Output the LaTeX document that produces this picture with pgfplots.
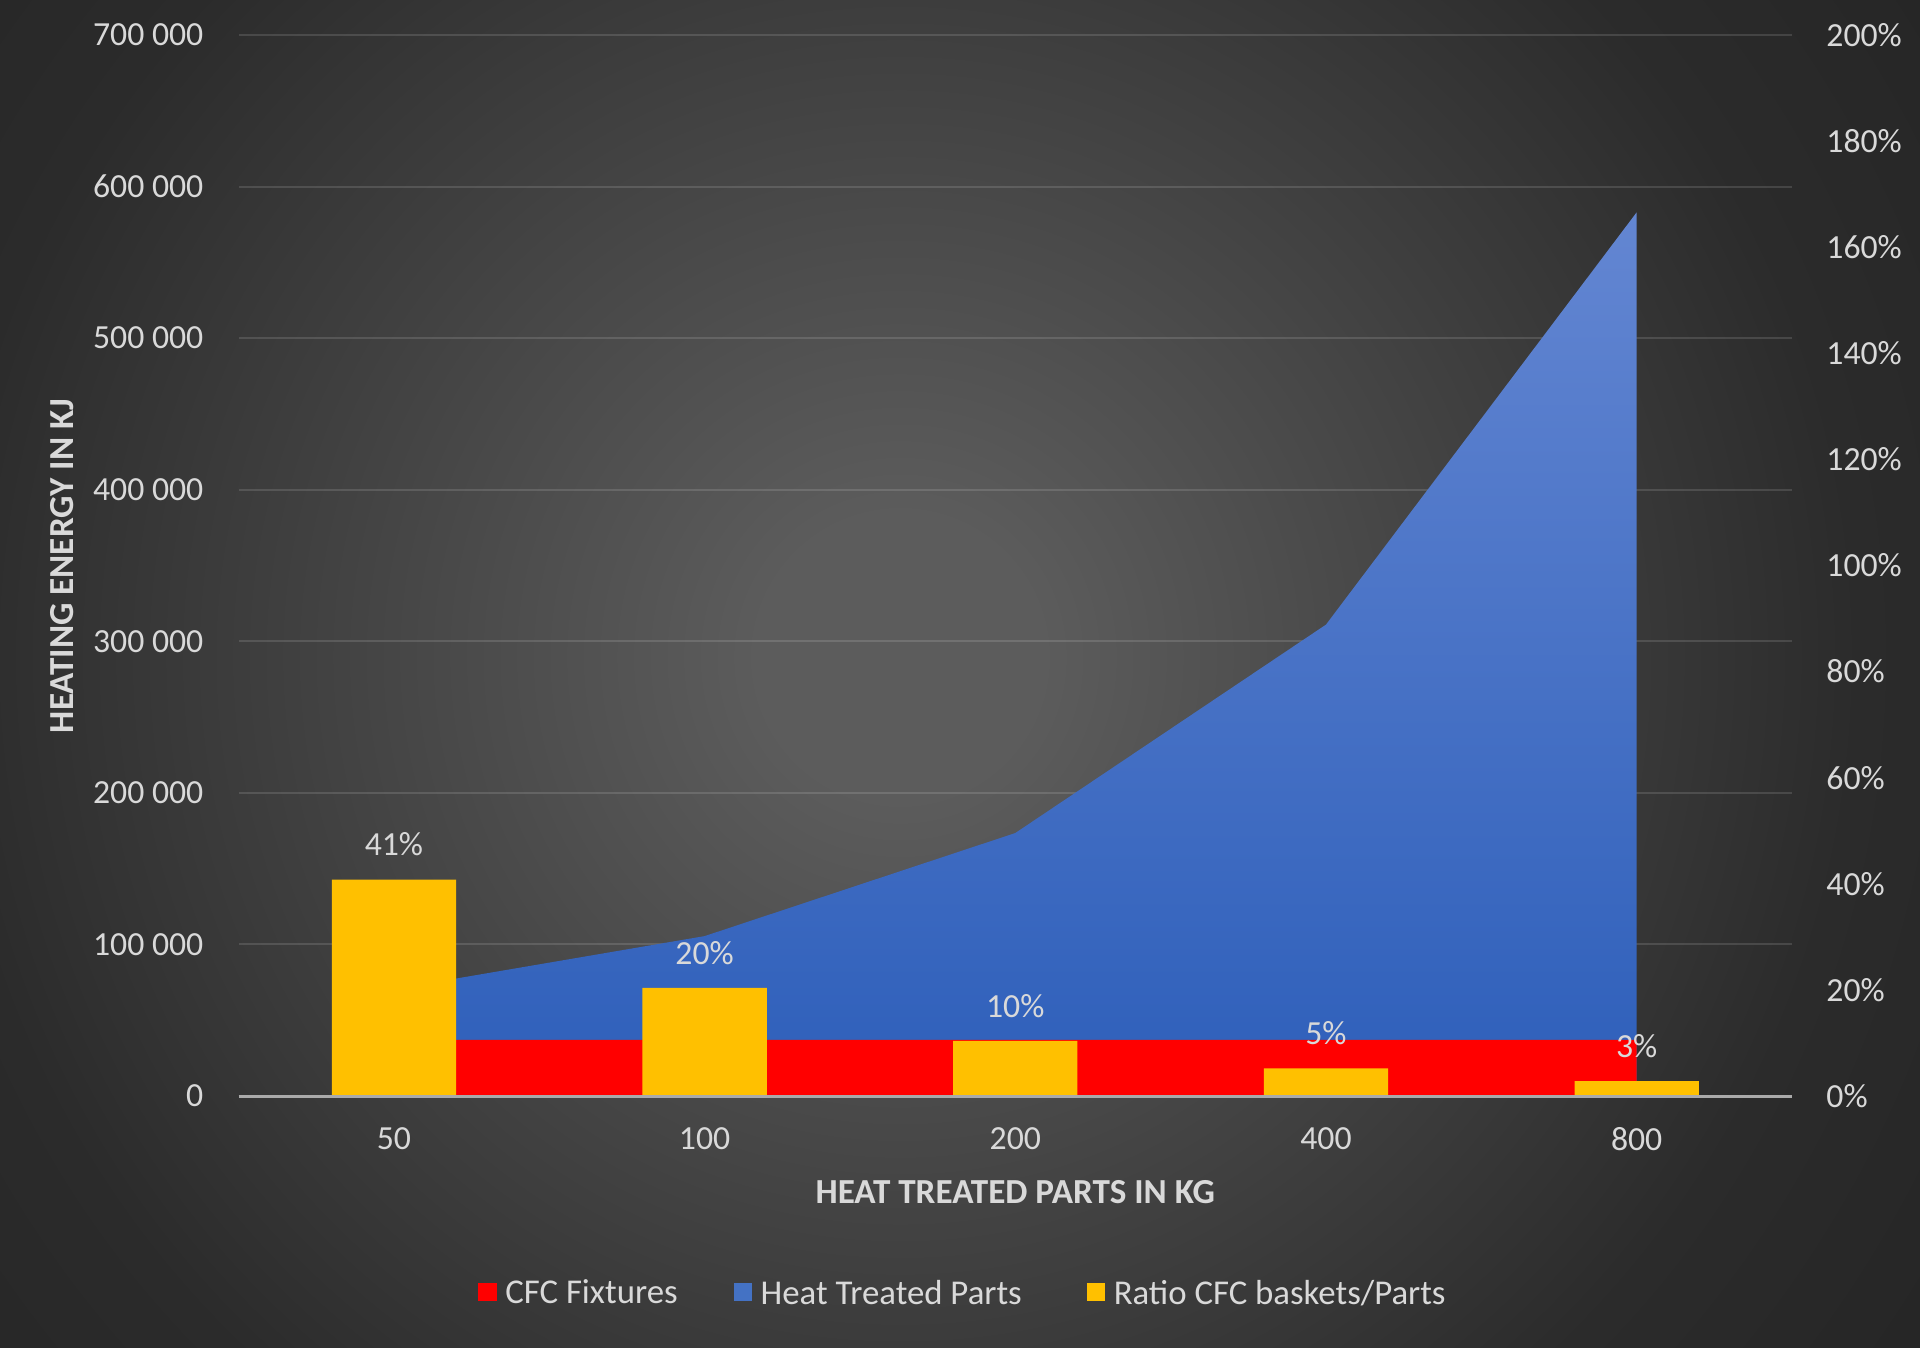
\documentclass[border=0pt]{standalone}
\usepackage{fontspec}
\setmainfont{Carlito}
\usepackage{pgfplots}
\pgfplotsset{compat=1.18}
\definecolor{bgin}{RGB}{92,92,92}
\definecolor{bgout}{RGB}{43,43,43}
\definecolor{bgcorner}{RGB}{37,37,37}
\definecolor{txt}{RGB}{217,217,217}
\definecolor{cfcred}{RGB}{255,0,0}
\definecolor{partsblueA}{RGB}{99,134,210}
\definecolor{partsblueB}{RGB}{46,95,186}
\definecolor{partsblueM}{RGB}{68,114,196}
\definecolor{ratioyellow}{RGB}{255,192,0}
\definecolor{baseline}{RGB}{170,170,170}
\pgfdeclareradialshading{bgshade}{\pgfpoint{0bp}{0bp}}{color(0bp)=(bgin); color(40bp)=(bgin); color(272bp)=(bgout); color(360bp)=(bgcorner)}
\newcommand\tickfont{\fontsize{9.6}{11.5}\selectfont}
\newcommand\titlefont{\fontsize{10}{12}\selectfont\bfseries}
\newcommand\legendfont{\fontsize{9.9}{11.9}\selectfont}
\begin{document}
\begin{tikzpicture}
\useasboundingbox (0,0) rectangle (19.2cm,13.47cm);
\begin{scope}
\clip (0,0) rectangle (19.2cm,13.47cm);
\node[inner sep=0pt, outer sep=0pt, anchor=center] at (9.0cm,6.9cm) {\pgfuseshading{bgshade}};
\end{scope}
\begin{axis}[
  at={(2.386cm,2.51cm)}, anchor=south west,
  scale only axis, width=15.534cm, height=10.61cm,
  xmin=-0.5, xmax=4.5, ymin=0, ymax=700000,
  xtick={0,1,2,3,4}, xticklabels={50,100,200,400,800},
  ytick={0,100000,200000,300000,400000,500000,600000,700000},
  yticklabels={0,100 000,200 000,300 000,400 000,500 000,600 000,700 000},
  scaled y ticks=false,
  ymajorgrids, grid style={white, opacity=0.13, line width=0.55pt},
  axis line style={draw=none}, major tick length=0pt, tick style={draw=none},
  /pgf/number format/assume math mode=true,
  ticklabel style={font=\tickfont, text=txt, inner sep=0pt},
  yticklabel style={anchor=east, xshift=-0.346cm},
  xticklabel style={anchor=center, yshift=-0.43cm},
  xlabel={HEAT TREATED PARTS IN KG},
  ylabel={HEATING ENERGY IN KJ},
  xlabel style={at={(axis description cs:0.5,-0.0905)}, anchor=center, font=\titlefont, text=txt, inner sep=0pt},
  ylabel style={at={(axis description cs:-0.1134,0.4995)}, anchor=center, font=\titlefont, text=txt, inner sep=0pt},
  legend style={at={(0.4657,-0.1847)}, anchor=center, draw=none, fill=none,
    font=\legendfont, text=txt, legend columns=3,
    nodes={inner sep=0pt, text depth=0pt},
    /tikz/every odd column/.append style={column sep=0.085cm},
    /tikz/column 2/.append style={column sep=0.56cm},
    /tikz/column 4/.append style={column sep=0.65cm}},
  legend cell align=left,
  legend image code/.code={\fill[#1, draw=none] (0cm,-0.0925cm) rectangle (0.185cm,0.0925cm);},
]
\addplot[forget plot, draw=none, top color=partsblueA, bottom color=partsblueB]
  coordinates {(0,70500) (1,105500) (2,173500) (3,311000) (4,583000)} \closedcycle;
\addplot[forget plot, draw=none, fill=cfcred]
  coordinates {(0,37000) (1,37000) (2,37000) (3,37000) (4,37000)} \closedcycle;
\addlegendimage{fill=cfcred, draw=none}
\addlegendentry{CFC Fixtures}
\addlegendimage{fill=partsblueM, draw=none}
\addlegendentry{Heat Treated Parts}
\addlegendimage{fill=ratioyellow, draw=none}
\addlegendentry{Ratio CFC baskets/Parts}
\end{axis}
\begin{axis}[
  at={(2.386cm,2.51cm)}, anchor=south west,
  scale only axis, width=15.534cm, height=10.61cm,
  xmin=-0.5, xmax=4.5, ymin=0, ymax=2,
  axis x line*=bottom, axis y line*=right,
  x axis line style={-, draw=baseline, line width=0.85pt},
  y axis line style={draw=none},
  xtick=\empty,
  ytick={0,0.2,0.4,0.6,0.8,1,1.2,1.4,1.6,1.8,2},
  yticklabels={0\%,20\%,40\%,60\%,80\%,100\%,120\%,140\%,160\%,180\%,200\%},
  major tick length=0pt, tick style={draw=none},
  yticklabel style={anchor=west, xshift=0.337cm, inner sep=0pt, font=\tickfont, text=txt},
  axis on top,
]
\addplot[ybar, bar width=0.4, bar shift=0pt, fill=ratioyellow, draw=none,
  point meta=explicit symbolic, nodes near coords,
  nodes near coords style={anchor=center, yshift=0.35cm, font=\tickfont, text=txt, inner sep=0pt}]
  coordinates {(0,0.408) [41\%] (1,0.204) [20\%] (2,0.104) [10\%] (3,0.052) [5\%] (4,0.028) [3\%]};
\end{axis}
\end{tikzpicture}
\end{document}
